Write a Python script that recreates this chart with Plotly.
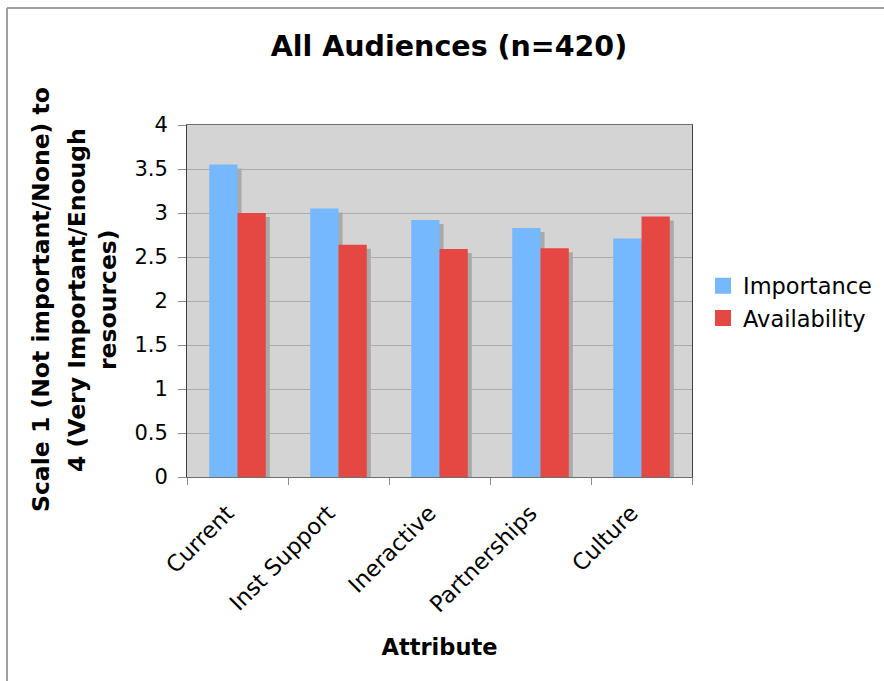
import plotly.graph_objects as go

categories = ["Current", "Inst Support", "Ineractive", "Partnerships", "Culture"]
importance = [3.55, 3.05, 2.92, 2.83, 2.71]
availability = [3.00, 2.64, 2.59, 2.60, 2.96]
y_ticks = [0, 0.5, 1, 1.5, 2, 2.5, 3, 3.5, 4]
y_tick_labels = ["0", "0.5", "1", "1.5", "2", "2.5", "3", "3.5", "4"]

BLUE = "#75b8fd"
RED = "#e54742"
SHADOW = "#a9a9a9"
FONT = "DejaVu Sans, Verdana, sans-serif"

BAR_W = 0.28
SH_DX = 0.04      # shadow shift to the right (category units)
SH_DY = 0.045     # shadow drop (value units)

fig = go.Figure()

# drop shadows behind each bar
for vals, off in ((importance, -BAR_W), (availability, 0.0)):
    fig.add_trace(go.Bar(
        x=categories, y=[v - SH_DY for v in vals],
        width=BAR_W, offset=off + SH_DX,
        marker=dict(color=SHADOW, line=dict(width=0)),
        showlegend=False, hoverinfo="skip",
    ))

fig.add_trace(go.Bar(
    name="Importance", x=categories, y=importance,
    width=BAR_W, offset=-BAR_W,
    marker=dict(color=BLUE, line=dict(width=0)),
    showlegend=False,
))
fig.add_trace(go.Bar(
    name="Availability", x=categories, y=availability,
    width=BAR_W, offset=0.0,
    marker=dict(color=RED, line=dict(width=0)),
    showlegend=False,
))

# legend entries with larger square swatches
for name, col in (("Importance", BLUE), ("Availability", RED)):
    fig.add_trace(go.Scatter(
        name=name, x=[None], y=[None], mode="markers",
        marker=dict(symbol="square", size=16, color=col, line=dict(width=0)),
    ))

# rotated y-axis title, one annotation per line
y_title_lines = [
    ("Scale 1 (Not important/None) to", 41),
    ("4 (Very Important/Enough", 77),
    ("resources)", 108),
]
L, R, T, B = 187, 192, 125, 204
PW = 884 - L - R
PH = 681 - T - B
for text, px in y_title_lines:
    fig.add_annotation(
        text=f"<b>{text}</b>", xref="paper", yref="paper",
        x=(px - L) / PW, y=(681 - B - 300) / PH, textangle=-90, showarrow=False,
        xanchor="center", yanchor="middle",
        font=dict(family=FONT, size=23.5, color="#000000"),
    )

# pad category labels so their ends sit a little left of each tick
x_tick_text = [c + "\u00a0\u00a0" for c in categories]

fig.update_layout(
    width=884, height=681,
    margin=dict(l=L, r=R, t=T, b=B, autoexpand=False),
    paper_bgcolor="#ffffff",
    plot_bgcolor="#d4d4d4",
    barmode="overlay",
    font=dict(family=FONT, size=21, color="#000000"),
    title=dict(
        text="<b>All Audiences (n=420)</b>",
        x=449 / 884, xanchor="center", y=1 - 46 / 681, yanchor="middle",
        font=dict(family=FONT, size=28.5, color="#000000"),
    ),
    legend=dict(
        x=(703 - L) / PW, y=(681 - B - 302) / PH, xanchor="left", yanchor="middle",
        font=dict(family=FONT, size=22.5),
        bgcolor="rgba(0,0,0,0)", tracegroupgap=0, itemwidth=30,
    ),
    xaxis=dict(
        tickangle=-45,
        tickmode="array", tickvals=categories, ticktext=x_tick_text,
        showline=True, linecolor="#6e6e6e", linewidth=1, mirror=True,
        ticks="outside", ticklen=7, tickcolor="#8a8a8a",
        tickson="boundaries",
        ticklabelstandoff=3,
        showgrid=False,
        tickfont=dict(family=FONT, size=22.5),
        title=dict(text="<b>Attribute</b>", font=dict(family=FONT, size=22.5), standoff=22),
    ),
    yaxis=dict(
        range=[0, 4], tickvals=y_ticks, ticktext=y_tick_labels,
        showline=True, linecolor="#404040", linewidth=1, mirror=True,
        ticks="outside", ticklen=8, tickcolor="#8a8a8a",
        ticklabelstandoff=6,
        gridcolor="#ababab", gridwidth=1,
        zeroline=False,
        tickfont=dict(family=FONT, size=21),
    ),
    shapes=[
        dict(type="line", xref="paper", yref="paper",
             x0=(7 - L) / PW, x1=(884 - L) / PW,
             y0=(681 - B - 8) / PH, y1=(681 - B - 8) / PH,
             line=dict(color="#a0a0a0", width=2)),
        dict(type="line", xref="paper", yref="paper",
             x0=(7 - L) / PW, x1=(7 - L) / PW,
             y0=(681 - B - 8) / PH, y1=(681 - B - 681) / PH,
             line=dict(color="#a0a0a0", width=2)),
    ],
)

fig.write_html("out.html")
